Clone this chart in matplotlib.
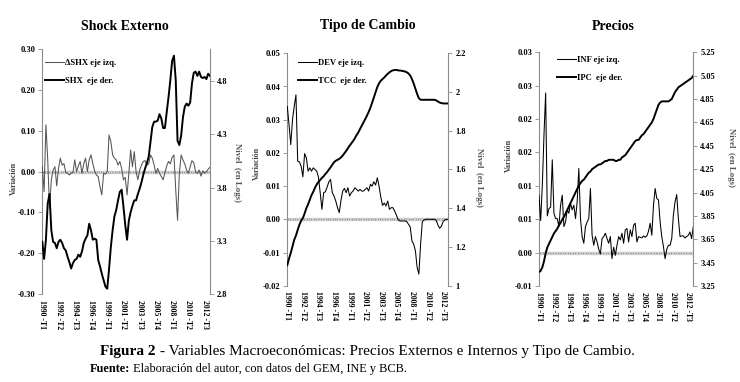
import numpy as np
import matplotlib
matplotlib.use('Agg')
import matplotlib.pyplot as plt
from matplotlib.ticker import FormatStrFormatter

plt.rcParams['font.family'] = ['Liberation Serif', 'DejaVu Serif']
plt.rcParams['font.weight'] = 'bold'

# ---------------- data (quarterly, 1990-T1 .. 2013-T2) ----------------
quarters = np.arange(94)
tick_labels = ['1990 -T1', '1992 -T2', '1994 -T3', '1996 -T4', '1999 -T1', '2001 -T2',
               '2003 -T3', '2005 -T4', '2008 -T1', '2010 -T2', '2012 -T3']

# Shock externo
dshx = [0.012, -0.049, 0.115, 0.03, -0.09, -0.02, 0.004, 0.012, -0.035, 0.008,
        0.033, 0.016, 0.02, -0.002, -0.004, -0.008, -0.004, -0.002, 0.029, 0.0,
        0.014, 0.025, -0.004, 0.02, 0.033, 0.0, 0.029, 0.041, 0.02, 0.002,
        -0.008, -0.012, -0.037, -0.057, -0.004, -0.006, 0.0, 0.09, 0.074, 0.041,
        0.033, 0.029, 0.016, 0.025, 0.008, -0.02, -0.014, -0.057, -0.004, 0.053,
        0.012, 0.049, 0.0, -0.02, 0.004, 0.016, 0.025, 0.027, 0.016, 0.019,
        0.041, 0.033, 0.016, -0.004, 0.008, -0.004, -0.012, -0.02, -0.002, 0.014,
        0.025, 0.019, 0.035, 0.041, -0.045, -0.119, -0.004, 0.041, 0.029, 0.019,
        0.004, -0.004, 0.012, 0.027, 0.022, 0.0, -0.004, 0.004, -0.011, 0.002,
        -0.004, 0.0, 0.006, 0.011]
shx = [3.29, 3.13, 3.31, 3.65, 3.74, 3.40, 3.29, 3.28, 3.23, 3.29,
       3.31, 3.28, 3.23, 3.21, 3.15, 3.10, 3.04, 3.09, 3.12, 3.13,
       3.17, 3.15, 3.20, 3.28, 3.32, 3.35, 3.46, 3.40, 3.31, 3.32,
       3.31, 3.12, 3.06, 2.99, 2.93, 2.87, 2.85, 3.03, 3.24, 3.40,
       3.53, 3.59, 3.68, 3.76, 3.78, 3.62, 3.45, 3.31, 3.49, 3.57,
       3.63, 3.68, 3.68, 3.74, 3.79, 3.85, 3.92, 3.98, 4.03, 4.09,
       4.23, 4.37, 4.42, 4.42, 4.43, 4.49, 4.45, 4.36, 4.36, 4.51,
       4.65, 4.81, 4.99, 5.04, 4.81, 4.24, 4.20, 4.29, 4.46, 4.56,
       4.59, 4.57, 4.60, 4.78, 4.88, 4.89, 4.85, 4.89, 4.84, 4.83,
       4.84, 4.82, 4.87, 4.85]

# Tipo de cambio
dev = [0.034, 0.0285, 0.0225, 0.030, 0.034, 0.0375, 0.0175, 0.0173, 0.016, 0.0128,
       0.0198, 0.0185, 0.0145, 0.0155, 0.0145, 0.0155, 0.015, 0.0145, 0.0127, 0.008,
       0.003, 0.008, 0.0083, 0.0097, 0.0113, 0.012, 0.008, 0.007, 0.0055, 0.0035,
       0.002, 0.0057, 0.0085, 0.0093, 0.008, 0.0095, 0.007, 0.008, 0.0085, 0.0095,
       0.009, 0.0085, 0.009, 0.0085, 0.0085, 0.009, 0.0095, 0.0085, 0.0105, 0.010,
       0.0113, 0.0103, 0.0125, 0.010, 0.0067, 0.0042, 0.0049, 0.004, 0.0055, 0.003,
       0.0035, 0.0035, 0.0025, 0.0013, -0.0001, -0.0005, -0.0005, -0.0005, -0.0005, -0.0007,
       -0.0015, -0.0023, -0.0065, -0.0075, -0.0095, -0.0145, -0.0165, -0.0075, -0.0007, -0.0002,
       0.0, 0.0, 0.0, 0.0, 0.0, 0.0, -0.0003, -0.0017, -0.0027, -0.0021,
       -0.0007, -0.0002, 0.0, 0.0]
tcc = [1.106, 1.140, 1.169, 1.203, 1.237, 1.259, 1.288, 1.315, 1.335, 1.349,
       1.373, 1.400, 1.420, 1.444, 1.468, 1.485, 1.506, 1.523, 1.536, 1.546,
       1.557, 1.565, 1.577, 1.587, 1.599, 1.611, 1.625, 1.638, 1.645, 1.650,
       1.655, 1.662, 1.672, 1.684, 1.696, 1.710, 1.723, 1.735, 1.747, 1.761,
       1.778, 1.791, 1.809, 1.826, 1.843, 1.860, 1.878, 1.897, 1.919, 1.945,
       1.972, 1.999, 2.026, 2.045, 2.058, 2.067, 2.075, 2.085, 2.094, 2.102,
       2.108, 2.112, 2.114, 2.114, 2.112, 2.111, 2.110, 2.108, 2.106, 2.102,
       2.096, 2.085, 2.067, 2.044, 2.017, 1.990, 1.968, 1.960, 1.960, 1.960,
       1.960, 1.960, 1.960, 1.960, 1.960, 1.960, 1.957, 1.951, 1.946, 1.943,
       1.941, 1.941, 1.941, 1.941]

# Precios
inf = [0.0086, 0.0048, 0.0101, 0.0176, 0.0239, 0.0055, 0.0066, 0.0068, 0.0139, 0.0059,
       0.0051, 0.0051, 0.0039, 0.0071, 0.0086, 0.0039, 0.0046, 0.0064, 0.0059, 0.0074,
       0.0064, 0.0071, 0.0051, 0.0076, 0.0126, 0.0051, 0.0024, 0.0014, 0.0039, 0.0046,
       0.0051, 0.0096, 0.0026, 0.0011, 0.0024, 0.0016, 0.0005, -0.0002, 0.0021, 0.0024,
       0.0029, 0.0021, 0.0014, 0.0024, -0.0009, 0.0008, -0.0004, 0.0011, 0.0024, 0.0019,
       0.0029, 0.0014, 0.0034, 0.0036, 0.0016, 0.0034, 0.0024, 0.0041, 0.0044, 0.0016,
       0.0024, 0.0023, 0.0022, 0.0025, 0.0023, 0.0025, 0.0032, 0.0044, 0.0026, 0.0071,
       0.0096, 0.0081, 0.0079, 0.0046, 0.0024, 0.0009, -0.0009, 0.0005, 0.0011, 0.0011,
       0.0021, 0.0056, 0.0076, 0.0087, 0.0051, 0.0024, 0.0025, 0.0025, 0.0022, 0.0024,
       0.0026, 0.0031, 0.0021, 0.0039]
ipc = [3.37, 3.38, 3.41, 3.46, 3.53, 3.58, 3.61, 3.64, 3.67, 3.70,
       3.72, 3.74, 3.77, 3.79, 3.82, 3.84, 3.87, 3.90, 3.93, 3.96,
       3.99, 4.02, 4.05, 4.08, 4.11, 4.13, 4.15, 4.16, 4.18, 4.20,
       4.22, 4.23, 4.25, 4.26, 4.27, 4.28, 4.29, 4.29, 4.30, 4.31,
       4.32, 4.32, 4.33, 4.33, 4.33, 4.33, 4.32, 4.32, 4.33, 4.33,
       4.35, 4.36, 4.37, 4.39, 4.41, 4.43, 4.45, 4.47, 4.49, 4.50,
       4.50, 4.52, 4.54, 4.55, 4.57, 4.59, 4.61, 4.63, 4.65, 4.68,
       4.72, 4.76, 4.80, 4.82, 4.83, 4.83, 4.83, 4.83, 4.83, 4.84,
       4.85, 4.88, 4.91, 4.93, 4.95, 4.96, 4.97, 4.98, 4.99, 5.00,
       5.01, 5.02, 5.03, 5.05]
precios_left_labels = ['-0.01', '0.00', '0.01', '0.01', '0.02', '0.02', '0.03', '0.03']

W, H = 740, 382
fig = plt.figure(figsize=(W / 100, H / 100), dpi=100)
grey = '#8c8c8c'


def panel(rect, var, lvl, names, var_color, ylim_l, yt_l, ylim_r, yt_r, fmt_r, leg_xy):
    ax = fig.add_axes(rect)
    ax2 = ax.twinx()
    ax.plot(quarters, np.zeros(len(quarters)), color='#a0a0a0', lw=1.8, marker='|',
            ms=2.6, mew=0.6, mec='#d8d8d8', zorder=1)
    l1, = ax.plot(quarters, var, color=var_color, lw=0.75, zorder=3)
    l2, = ax2.plot(quarters, lvl, color='black', lw=1.4, zorder=3)
    ax.set_xlim(0, 93)
    ax.set_ylim(*ylim_l)
    ax.set_yticks(yt_l)
    ax2.set_ylim(*ylim_r)
    ax2.set_yticks(yt_r)
    ax2.yaxis.set_major_formatter(FormatStrFormatter(fmt_r) if fmt_r else
                                  plt.FuncFormatter(lambda v, p: '%g' % round(v, 2)))
    ax.set_xticks(quarters[::9])
    ax.set_xticklabels(tick_labels, rotation=-90, va='top', ha='center')
    for a in (ax, ax2):
        for s in a.spines.values():
            s.set_visible(False)
    ax.spines['left'].set_visible(True)
    ax.spines['left'].set_color(grey)
    ax2.spines['right'].set_visible(True)
    ax2.spines['right'].set_color(grey)
    ax.tick_params(axis='y', length=3, width=0.6, color=grey, labelsize=6, pad=2)
    ax2.tick_params(axis='y', length=3, width=0.6, color=grey, labelsize=6, pad=2)
    ax.tick_params(axis='x', length=0, labelsize=5.6, pad=4)
    ax2.legend([l1, l2], names, loc='upper left', bbox_to_anchor=leg_xy, frameon=False,
               fontsize=6.2, handlelength=2.2, handletextpad=0.1, labelspacing=1.2,
               borderpad=0, borderaxespad=0)
    return ax, ax2


ax, ax2 = panel([42.3 / W, 1 - 294 / H, 167.7 / W, 244.7 / H], dshx, shx,
                ['ΔSHX eje izq.', 'SHX  eje der.'], '#555555',
                (-0.3, 0.3), np.linspace(-0.3, 0.3, 7), (2.8, 5.1), [2.8, 3.3, 3.8, 4.3, 4.8], '%.1f',
                (0.016, 0.962))
ax.yaxis.set_major_formatter(FormatStrFormatter('%.2f'))

ax, ax2 = panel([287.3 / W, 1 - 285.7 / H, 161 / W, 232.4 / H], dev, tcc,
                ['DEV eje izq.', 'TCC  eje der.'], 'black',
                (-0.02, 0.05), np.linspace(-0.02, 0.05, 8), (1.0, 2.2), np.linspace(1.0, 2.2, 7), None,
                (0.066, 0.977))
ax.yaxis.set_major_formatter(FormatStrFormatter('%.2f'))

ax, ax2 = panel([539 / W, 1 - 286 / H, 154.3 / W, 233.7 / H], inf, ipc,
                ['INF eje izq.', 'IPC  eje der.'], 'black',
                (-0.005, 0.03), np.linspace(-0.005, 0.03, 8), (3.25, 5.25), np.linspace(3.25, 5.25, 11), '%.2f',
                (0.117, 0.986))
ax.set_yticklabels(precios_left_labels)

# titles and axis names
for x, t in [(125, 'Shock Externo'), (368, 'Tipo de Cambio'), (613, 'Precios')]:
    fig.text(x / W, 1 - 26 / H, t, ha='center', va='center', fontsize=10, fontweight='bold')
for x, y in [(14, 178), (256.7, 163), (509, 155)]:
    fig.text(x / W, 1 - y / H, 'Variación', rotation=90, ha='center', va='center',
             fontsize=5.8, color='#404040')
for x, y in [(237, 172), (479, 177), (730.7, 157)]:
    fig.text(x / W, 1 - y / H, 'Nivel  (en Logs)', rotation=-90, ha='center', va='center',
             fontsize=6.3, color='#555555')

# caption
fig.canvas.draw()
r = fig.canvas.get_renderer()
t1 = fig.text(100 / W, 1 - 352 / H, 'Figura 2', fontsize=11, fontweight='bold', va='center')
bb = t1.get_window_extent(r)
fig.text(bb.x1 / W, 1 - 352 / H, ' - Variables Macroeconómicas: Precios Externos e Internos y Tipo de Cambio.',
         fontsize=11, fontweight='normal', va='center')
t2 = fig.text(90 / W, 1 - 369 / H, 'Fuente:', fontsize=8.8, fontweight='bold', va='center')
bb = t2.get_window_extent(r)
fig.text(bb.x1 / W, 1 - 369 / H, ' Elaboración del autor, con datos del GEM, INE y BCB.',
         fontsize=8.8, fontweight='normal', va='center')

fig.savefig('out.png', dpi=100)
